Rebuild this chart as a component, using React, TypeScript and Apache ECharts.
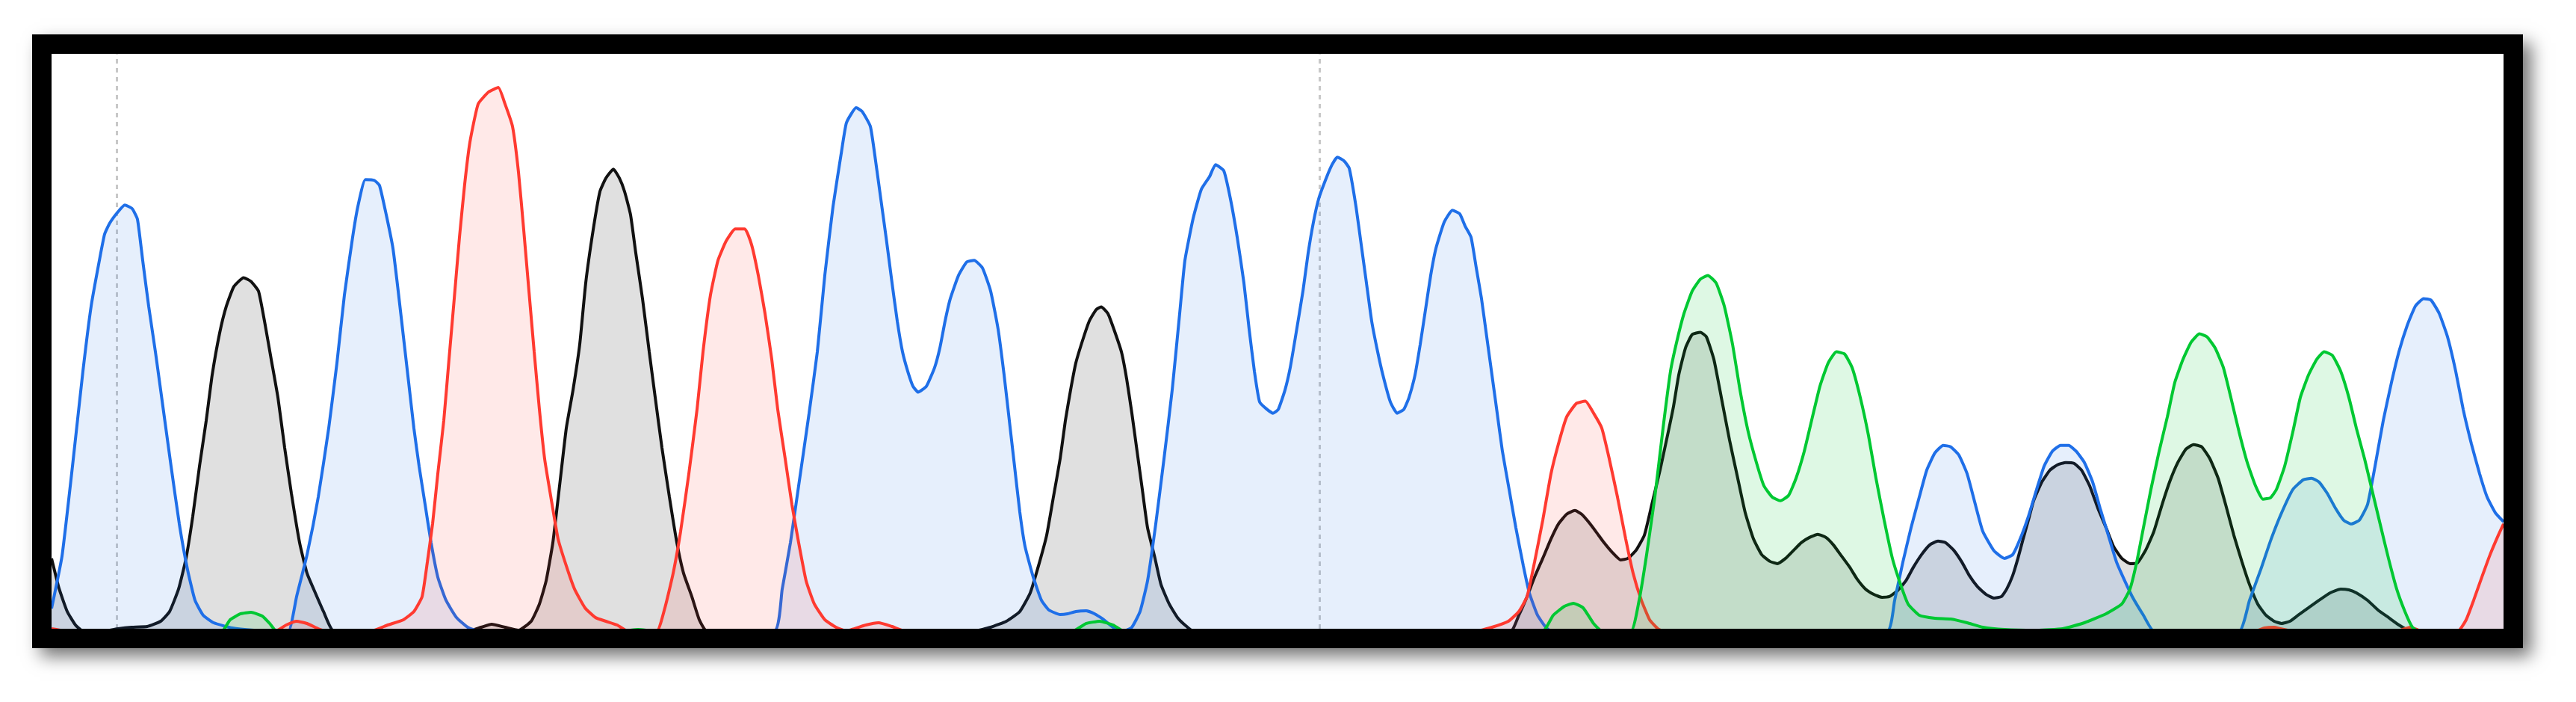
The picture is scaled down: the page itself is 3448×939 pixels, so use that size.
import React, { useEffect, useRef } from "react";
import * as echarts from "echarts";

// Chromatogram traces: [scan position, signal intensity]
const blueTrace: number[][] = [
  [0,30],[14,100],[28,220],[42,347],[53,434],[64,495],[71,530],[78,545],[89,560],[98,569],[108,564],[115,550],[122,495],[130,434],[139,373],[146,322],[153,271],[160,220],[171,143],[182,82],[192,41],[203,21],[217,11],[242,4],[271,1],[296,0],
  [317,0],[328,46],[342,102],[357,179],[371,271],[382,358],[392,449],[403,526],[410,567],[420,603],[432,602],[439,595],[448,556],[457,511],[464,454],[471,393],[478,332],[485,271],[492,220],[500,169],[508,118],[517,72],[528,41],[542,18],[557,5],[571,0],
  [967,0],[978,56],[989,118],[1000,194],[1014,291],[1025,373],[1035,475],[1046,567],[1057,638],[1064,679],[1077,699],[1085,694],[1096,674],[1103,628],[1110,577],[1117,526],[1125,465],[1132,414],[1139,373],[1146,347],[1153,327],[1160,319],[1171,327],[1182,352],[1189,378],[1196,414],[1203,444],[1214,475],[1225,493],[1235,495],[1246,485],[1257,454],[1267,403],[1275,342],[1282,281],[1289,220],[1296,159],[1303,113],[1314,72],[1325,41],[1335,28],[1350,22],[1360,23],[1371,26],[1385,27],[1396,23],[1407,16],[1421,5],[1435,0],[1446,5],[1457,26],[1467,67],[1478,143],[1489,230],[1500,322],[1510,424],[1517,495],[1528,551],[1539,590],[1550,607],[1558,623],[1569,615],[1578,577],[1587,526],[1596,465],[1603,403],[1610,347],[1617,306],[1627,296],[1635,291],[1642,296],[1651,322],[1658,352],[1665,393],[1675,454],[1682,505],[1689,546],[1696,577],[1705,602],[1714,623],[1721,633],[1730,628],[1737,618],[1746,567],[1753,516],[1760,465],[1767,414],[1775,373],[1782,342],[1792,306],[1801,291],[1810,296],[1817,312],[1825,342],[1832,383],[1839,429],[1846,475],[1853,511],[1864,546],[1875,562],[1885,557],[1892,541],[1900,526],[1907,485],[1914,444],[1921,393],[1928,342],[1935,291],[1942,240],[1951,189],[1960,138],[1970,87],[1978,51],[1989,21],[2000,5],[2007,0],
  [2457,0],[2467,41],[2478,92],[2489,138],[2500,179],[2510,215],[2521,238],[2532,248],[2542,246],[2553,235],[2564,210],[2575,169],[2585,133],[2600,107],[2614,97],[2625,102],[2635,123],[2646,153],[2657,189],[2667,220],[2678,240],[2689,248],[2700,248],[2710,240],[2721,225],[2732,199],[2742,164],[2753,128],[2764,92],[2775,67],[2785,46],[2800,21],[2814,0],
  [2928,0],[2942,41],[2957,82],[2971,123],[2985,158],[3000,189],[3014,202],[3025,204],[3035,199],[3046,184],[3057,164],[3068,148],[3078,143],[3089,148],[3100,169],[3110,220],[3121,281],[3132,332],[3142,373],[3153,408],[3164,434],[3175,444],[3185,442],[3196,424],[3207,393],[3218,347],[3228,296],[3239,250],[3250,210],[3260,179],[3271,158],[3282,146]
];

const blackTrace: number[][] = [
  [0,97],[10,57],[21,26],[32,8],[42,0],[71,0],[89,3],[107,5],[128,6],[146,13],[158,26],[170,56],[180,97],[189,153],[198,220],[207,281],[215,342],[225,398],[234,434],[244,460],[257,472],[267,467],[277,454],[285,414],[294,363],[303,312],[312,245],[321,184],[332,118],[342,77],[353,51],[364,26],[378,0],
  [557,0],[575,5],[589,9],[607,5],[625,1],[642,13],[653,36],[662,67],[671,118],[680,194],[689,271],[698,322],[707,383],[715,465],[725,536],[734,587],[742,605],[752,617],[760,605],[767,587],[775,556],[782,505],[791,444],[800,373],[808,312],[817,245],[827,179],[837,118],[846,77],[857,46],[867,15],[877,0],
  [1235,0],[1257,5],[1278,13],[1296,26],[1310,51],[1321,87],[1332,128],[1341,179],[1350,230],[1357,281],[1364,322],[1371,358],[1380,388],[1389,414],[1398,429],[1405,433],[1414,424],[1422,403],[1432,373],[1439,337],[1446,291],[1453,240],[1460,189],[1467,138],[1477,97],[1485,62],[1496,36],[1507,18],[1517,8],[1528,0],
  [1953,0],[1964,21],[1975,46],[1985,72],[1996,97],[2007,123],[2017,143],[2028,156],[2039,161],[2048,156],[2057,146],[2067,133],[2078,118],[2089,105],[2100,95],[2110,97],[2121,108],[2132,128],[2142,169],[2153,215],[2164,266],[2171,300],[2178,342],[2187,378],[2196,396],[2207,399],[2215,393],[2225,363],[2235,312],[2246,255],[2257,204],[2267,158],[2278,123],[2289,102],[2300,93],[2310,90],[2321,97],[2332,108],[2342,118],[2353,125],[2364,129],[2375,125],[2385,115],[2396,100],[2407,85],[2417,69],[2428,56],[2439,49],[2450,45],[2460,46],[2471,54],[2482,67],[2492,85],[2503,102],[2514,115],[2525,120],[2535,118],[2546,108],[2557,92],[2567,74],[2578,59],[2589,49],[2600,44],[2610,46],[2617,56],[2625,74],[2632,97],[2639,123],[2646,148],[2653,174],[2664,199],[2675,215],[2685,222],[2696,225],[2707,224],[2717,215],[2728,194],[2739,164],[2750,138],[2760,113],[2771,97],[2782,90],[2792,91],[2803,108],[2814,133],[2825,169],[2835,199],[2846,225],[2857,243],[2867,249],[2878,246],[2889,230],[2900,204],[2910,169],[2921,128],[2932,92],[2942,62],[2953,36],[2964,21],[2975,13],[2985,10],[2996,13],[3007,21],[3021,31],[3035,41],[3050,51],[3064,56],[3075,55],[3085,51],[3100,41],[3114,28],[3128,18],[3142,8],[3157,0],[3282,0]
];

const redTrace: number[][] = [
  [0,3],[20,0],[300,0],[314,8],[328,13],[342,10],[357,3],[367,0],
  [428,0],[450,8],[471,15],[485,26],[496,46],[503,92],[510,143],[517,210],[525,281],[532,363],[539,444],[546,526],[553,597],[560,653],[571,704],[585,720],[598,726],[607,704],[617,674],[625,613],[632,536],[639,454],[646,373],[653,296],[660,230],[670,169],[678,123],[689,87],[700,56],[714,31],[728,18],[742,13],[757,8],[771,0],
  [810,0],[821,31],[832,77],[842,133],[853,210],[864,296],[872,373],[882,449],[892,495],[903,521],[915,537],[928,537],[937,516],[946,475],[955,424],[964,363],[972,296],[982,230],[991,169],[1000,118],[1010,67],[1021,36],[1035,15],[1050,5],[1064,0],[1071,2],[1090,8],[1107,11],[1125,6],[1142,0],
  [1907,0],[1928,5],[1950,13],[1964,26],[1975,46],[1985,92],[1996,148],[2007,210],[2017,250],[2028,286],[2041,304],[2053,307],[2064,291],[2075,271],[2085,230],[2096,179],[2107,123],[2117,77],[2128,41],[2139,15],[2150,3],[2157,0],
  [2950,0],[2962,4],[2975,5],[2988,2],[3000,0],[3140,0],[3157,5],[3172,0],
  [3221,0],[3232,15],[3242,41],[3253,72],[3264,102],[3275,128],[3282,143]
];

const greenTrace: number[][] = [
  [0,0],[228,0],[239,15],[253,23],[267,25],[282,20],[292,10],[301,0],
  [764,0],[785,2],[807,0],
  [1367,0],[1385,10],[1403,13],[1421,8],[1435,0],
  [1996,0],[2010,21],[2025,33],[2037,37],[2050,31],[2064,10],[2075,0],
  [2114,0],[2125,41],[2135,102],[2146,179],[2157,271],[2167,347],[2175,385],[2185,424],[2196,454],[2207,470],[2217,475],[2228,465],[2239,434],[2250,383],[2260,322],[2271,266],[2282,225],[2292,194],[2303,179],[2314,174],[2325,181],[2335,204],[2346,240],[2357,286],[2367,327],[2378,358],[2389,373],[2400,370],[2410,352],[2421,312],[2432,261],[2442,204],[2453,148],[2464,97],[2475,62],[2485,36],[2500,21],[2521,17],[2542,16],[2564,11],[2585,5],[2614,2],[2657,1],[2692,3],[2721,11],[2750,23],[2771,36],[2782,56],[2791,92],[2800,138],[2810,189],[2821,240],[2832,286],[2842,332],[2853,363],[2864,386],[2875,397],[2885,393],[2896,378],[2907,352],[2917,312],[2928,266],[2939,225],[2950,194],[2960,176],[2970,178],[2978,189],[2989,220],[3000,266],[3010,312],[3021,342],[3032,363],[3042,373],[3053,368],[3064,347],[3075,312],[3085,271],[3096,230],[3107,184],[3118,138],[3128,97],[3139,56],[3150,26],[3160,5],[3168,0],[3282,0]
];

// Positions of the dotted guide lines (scan positions)
const guidePositions: number[] = [87, 1697];

const scanMax = 3282;
const signalMin = 3;
const signalMax = 771;

const traceDefs = [
  { name: "G", data: blackTrace, line: "#111111", fill: "rgba(0,0,0,0.12)" },
  { name: "C", data: blueTrace, line: "#1f6fe8", fill: "rgba(31,111,232,0.11)" },
  { name: "T", data: redTrace, line: "#ff3a30", fill: "rgba(255,58,48,0.11)" },
  { name: "A", data: greenTrace, line: "#00c832", fill: "rgba(0,200,50,0.13)" },
];

export default function App() {
  const ref = useRef<HTMLDivElement>(null);

  useEffect(() => {
    if (!ref.current) return;
    const chart = echarts.init(ref.current, undefined, { renderer: "svg" });
    const series: any[] = traceDefs.map((t, i) => ({
      name: t.name,
      type: "line",
      data: t.data,
      smooth: 0.15,
      showSymbol: false,
      symbol: "none",
      lineStyle: { color: t.line, width: 4 },
      itemStyle: { color: t.line },
      areaStyle: { color: t.fill, opacity: 1, origin: "start" },
      z: 2 + i,
      markLine:
        i === 0
          ? {
              silent: true,
              symbol: "none",
              label: { show: false },
              lineStyle: { color: "#c8c8c8", type: [6, 6], width: 3 },
              data: guidePositions.map((x) => ({ xAxis: x })),
              z: 1,
            }
          : undefined,
    }));
    chart.setOption({
      animation: false,
      backgroundColor: "#ffffff",
      grid: { left: 0, right: 0, top: 0, bottom: 0 },
      xAxis: { type: "value", min: 0, max: scanMax, show: false },
      yAxis: { type: "value", min: signalMin, max: signalMax, show: false },
      series,
    });
    return () => chart.dispose();
  }, []);

  return (
    <div
      style={{
        position: "absolute",
        left: 43,
        top: 46,
        width: 3334,
        height: 821,
        boxSizing: "border-box",
        border: "26px solid #000",
        background: "#fff",
        boxShadow: "11px 11px 22px rgba(0,0,0,0.55)",
      }}
    >
      <div ref={ref} style={{ width: 3282, height: 769 }} />
    </div>
  );
}
